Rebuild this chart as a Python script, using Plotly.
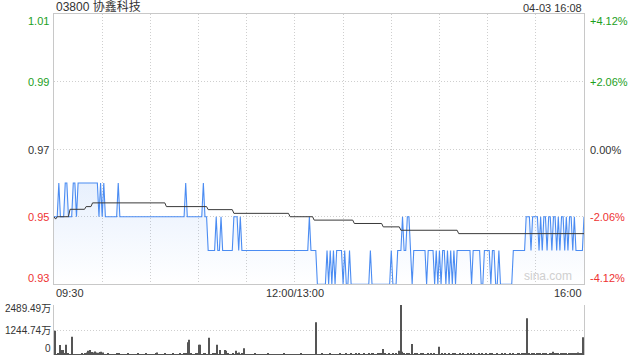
import plotly.graph_objects as go

# ---------------- data ----------------
title_text = "03800 协鑫科技"
stamp_text = "04-03 16:08"
prev_close = 0.97

# per-minute last price (in 0.01 HKD), 09:30 -> 16:00 (lunch break skipped)
price_cents = [
    95, 95, 95, 96, 95, 95, 95, 96, 96, 95, 95, 95, 96, 96, 95, 96, 96, 96, 96, 96, 96, 96, 96, 96, 96, 96, 96, 96, 95, 96,
    95, 96, 95, 95, 95, 95, 95, 95, 95, 95, 96, 95, 95, 95, 95, 95, 95, 95, 95, 95, 95, 95, 95, 95, 95, 95, 95, 95, 95, 95,
    95, 95, 95, 95, 95, 95, 95, 95, 95, 95, 95, 95, 95, 95, 95, 95, 95, 95, 95, 95, 95, 95, 96, 95, 95, 95, 95, 95, 95, 95,
    95, 95, 95, 96, 95, 95, 94, 94, 94, 94, 94, 95, 94, 94, 95, 94, 94, 94, 94, 94, 94, 94, 95, 95, 95, 94, 95, 94, 94, 94,
    94, 94, 94, 94, 94, 94, 94, 94, 94, 94, 94, 94, 94, 94, 94, 94, 94, 94, 94, 94, 94, 94, 94, 94, 94, 94, 94, 94, 94, 94,
    94, 94, 94, 94, 94, 94, 94, 94, 94, 95, 94, 94, 94, 94, 93, 93, 93, 93, 93, 93, 94, 93, 94, 93, 94, 93, 94, 94, 94, 94,
    93, 94, 93, 93, 94, 93, 93, 93, 93, 93, 93, 93, 93, 93, 93, 93, 93, 94, 93, 93, 93, 93, 93, 93, 93, 93, 93, 93, 93, 93,
    94, 93, 93, 93, 94, 94, 94, 95, 94, 94, 95, 95, 94, 93, 94, 94, 94, 94, 94, 94, 94, 94, 93, 94, 94, 94, 94, 93, 94, 93,
    94, 93, 94, 94, 93, 94, 93, 94, 93, 94, 93, 94, 94, 94, 94, 94, 94, 94, 94, 94, 93, 94, 94, 94, 94, 94, 93, 93, 94, 94,
    94, 94, 93, 94, 94, 93, 93, 94, 93, 93, 93, 93, 93, 93, 93, 93, 94, 94, 94, 94, 94, 94, 94, 94, 95, 95, 95, 94, 95, 95,
    95, 95, 94, 95, 94, 95, 95, 94, 95, 95, 94, 95, 95, 94, 95, 94, 95, 95, 94, 95, 94, 95, 95, 94, 95, 94, 94, 94, 94, 94,
    95,
]

# average price line: (minute, value) breakpoints
avg_minutes = [0, 1, 2, 9, 10, 19, 20, 23, 24, 69, 70, 95, 96, 111, 112, 146,
               147, 161, 162, 186, 187, 204, 205, 215, 216, 251, 252, 330]
avg_price = [0.9500, 0.9493, 0.9500, 0.9500, 0.9522, 0.9522, 0.9530, 0.9530,
             0.9541, 0.9541, 0.9530, 0.9530, 0.9521, 0.9521, 0.9510, 0.9510,
             0.9500, 0.9500, 0.9490, 0.9490, 0.9480, 0.9480, 0.9470, 0.9470,
             0.9460, 0.9460, 0.9450, 0.9450]

# per-minute volume (万)
volume = [
    1210, 40, 60, 500, 250, 250, 80, 510, 60, 40, 30, 910, 40, 30, 20, 40, 30, 50, 40, 60, 130, 210, 250, 150, 120, 170, 130, 110, 150, 160,
    120, 40, 30, 50, 20, 30, 40, 20, 30, 60, 50, 30, 20, 40, 30, 20, 50, 30, 40, 20, 30, 40, 60, 30, 20, 40, 30, 50, 20, 30,
    40, 30, 20, 50, 130, 30, 40, 20, 30, 50, 40, 20, 30, 40, 60, 30, 20, 40, 50, 30, 40, 60, 80, 630, 760, 50, 30, 40, 60, 50,
    510, 510, 40, 60, 50, 30, 860, 40, 30, 50, 60, 510, 40, 250, 30, 40, 250, 215, 60, 40, 30, 50, 40, 215, 60, 130, 40, 50, 330, 40,
    30, 20, 40, 30, 20, 50, 30, 40, 20, 30, 40, 30, 20, 50, 30, 20, 40, 30, 20, 30, 40, 20, 30, 50, 30, 20, 40, 30, 20, 40,
    30, 20, 40, 30, 50, 20, 30, 40, 20, 30, 40, 30, 20, 1628, 40, 30, 20, 50, 30, 40, 20, 30, 50, 40, 30, 20, 40, 30, 60, 40,
    40, 30, 60, 40, 30, 50, 40, 30, 60, 40, 50, 30, 40, 60, 40, 30, 50, 40, 60, 50, 40, 30, 60, 90, 50, 300, 100, 40, 30, 50,
    40, 60, 30, 50, 40, 215, 2489.49, 165, 60, 40, 80, 50, 30, 550, 40, 60, 50, 30, 40, 60, 50, 40, 30, 60, 40, 50, 30, 60, 40, 30,
    415, 40, 60, 30, 50, 40, 70, 30, 40, 60, 50, 30, 40, 60, 30, 50, 40, 30, 60, 40, 50, 30, 60, 40, 30, 50, 40, 60, 30, 50,
    40, 30, 50, 60, 40, 30, 50, 40, 30, 60, 40, 50, 30, 40, 60, 30, 50, 40, 30, 60, 50, 40, 70, 60, 50, 1827, 60, 40, 80, 50,
    40, 60, 50, 90, 40, 50, 60, 80, 40, 60, 70, 165, 50, 60, 80, 40, 90, 60, 50, 70, 40, 60, 80, 50, 70, 90, 60, 120, 80, 100,
    880,
]

price_ticks = [1.01, 0.99, 0.97, 0.95, 0.93]
price_tick_labels = ["1.01", "0.99", "0.97", "0.95", "0.93"]
pct_tick_labels = ["+4.12%", "+2.06%", "0.00%", "-2.06%", "-4.12%"]
vol_ticks = [2489.49, 1244.745, 0]
vol_tick_labels = ["2489.49万", "1244.74万", "0"]
time_grid = [0, 30, 60, 90, 120, 150, 180, 210, 240, 270, 300, 330]
time_label_pos = [0, 150, 330]
time_labels = ["09:30", "12:00/13:00", "16:00"]

# ---------------- styling ----------------
FONT = "Arial, 'Liberation Sans', 'Noto Sans CJK SC', sans-serif"
GREEN = "rgb(28,160,28)"
RED = "rgb(238,50,50)"
DARK = "#333333"
BLUE = "#4b8cf2"
GRID = "#cfcfcf"
BORDER = "#c8c8c8"
DOT = "1px,2px"

minutes = list(range(len(price_cents)))
price = [c / 100 for c in price_cents]

fig = go.Figure()
fig.add_trace(go.Scatter(
    x=minutes, y=price, mode="lines",
    line=dict(color=BLUE, width=1.1),
    fill="tozeroy",
    fillgradient=dict(type="vertical",
                      colorscale=[[0, "rgba(75,140,242,0.0)"], [1, "rgba(75,140,242,0.13)"]],
                      start=0.93, stop=0.96),
    hoverinfo="skip", xaxis="x", yaxis="y",
))
fig.add_trace(go.Scatter(
    x=avg_minutes, y=avg_price, mode="lines",
    line=dict(color="#3a3a3a", width=1),
    hoverinfo="skip", xaxis="x", yaxis="y",
))
fig.add_trace(go.Bar(
    x=minutes, y=volume, marker=dict(color="#555555", line=dict(width=0)),
    hoverinfo="skip", xaxis="x2", yaxis="y2",
))

ann = []
def color_for(v):
    if abs(v - prev_close) < 1e-9:
        return DARK
    return GREEN if v > prev_close else RED

for i, (v, lab, pl) in enumerate(zip(price_ticks, price_tick_labels, pct_tick_labels)):
    if i == 0:
        ys = -6.5
    elif i == len(price_ticks) - 1:
        ys = 6
    else:
        ys = -0.5
    c = color_for(v)
    ann.append(dict(xref="paper", yref="y", x=0, y=v, text=lab, showarrow=False,
                    xanchor="right", yanchor="middle", xshift=-3, yshift=ys,
                    font=dict(color=c, size=11, family=FONT)))
    ann.append(dict(xref="paper", yref="y", x=1, y=v, text=pl, showarrow=False,
                    xanchor="left", yanchor="middle", xshift=4, yshift=ys,
                    font=dict(color=c, size=11, family=FONT)))

for i, (v, lab) in enumerate(zip(vol_ticks, vol_tick_labels)):
    if i == 0:
        ya, ys = "middle", -3
    elif i == len(vol_ticks) - 1:
        ya, ys = "bottom", 0
    else:
        ya, ys = "middle", 0
    ann.append(dict(xref="paper", yref="y2", x=0, y=v, text=lab, showarrow=False,
                    xanchor="right", yanchor=ya, xshift=-2, yshift=ys, borderpad=0,
                    font=dict(color=DARK, size=10, family=FONT)))

anchors = ["left", "center", "right"]
for pos, lab, xa in zip(time_label_pos, time_labels, anchors):
    ann.append(dict(xref="x", yref="y domain", x=pos, y=0, text=lab, showarrow=False,
                    xanchor=xa, yanchor="top", yshift=-1,
                    font=dict(color=DARK, size=11, family=FONT)))

ann.append(dict(xref="paper", yref="paper", x=0, y=1, text=title_text, showarrow=False,
                xanchor="left", yanchor="bottom", yshift=-2, font=dict(color=DARK, size=12, family=FONT)))
ann.append(dict(xref="paper", yref="paper", x=1, y=1, text=stamp_text, showarrow=False,
                xanchor="right", yanchor="bottom", yshift=-2, font=dict(color=DARK, size=11, family=FONT)))
ann.append(dict(xref="paper", yref="y domain", x=1, y=0, text="sina.com", showarrow=False,
                xanchor="right", yanchor="bottom", xshift=-10, yshift=-1,
                font=dict(color="#cfcfcf", size=12, family=FONT)))

fig.update_layout(
    width=640, height=360,
    margin=dict(l=54, r=56, t=14, b=5, pad=0),
    paper_bgcolor="white", plot_bgcolor="white",
    showlegend=False, bargap=0.35,
    annotations=ann,
    xaxis=dict(domain=[0, 1], anchor="y", range=[0, 330], tickvals=time_grid, showticklabels=False,
               showgrid=True, gridcolor=GRID, griddash=DOT, gridwidth=1, zeroline=False,
               showline=True, linecolor=BORDER, linewidth=1, mirror=True, ticks=""),
    yaxis=dict(domain=[0.2073, 1], anchor="x", range=[0.93, 1.01], tickvals=price_ticks[1:-1],
               showticklabels=False, showgrid=True, gridcolor=GRID, griddash=DOT, zeroline=False,
               showline=True, linecolor=BORDER, linewidth=1, mirror=True, ticks=""),
    xaxis2=dict(domain=[0, 1], anchor="y2", range=[-0.5, 330.5], showticklabels=False, showgrid=False,
                zeroline=False, showline=False, ticks=""),
    yaxis2=dict(domain=[0, 0.1466], anchor="x2", range=[0, 2489.49], tickvals=vol_ticks[:2],
                showticklabels=False, showgrid=True, gridcolor=GRID, griddash=DOT, zeroline=False,
                showline=True, linecolor=BORDER, linewidth=1, mirror=True, ticks=""),
)

fig.write_html("out.html", config={"displayModeBar": False},
               post_script="document.body.style.margin='0';")
